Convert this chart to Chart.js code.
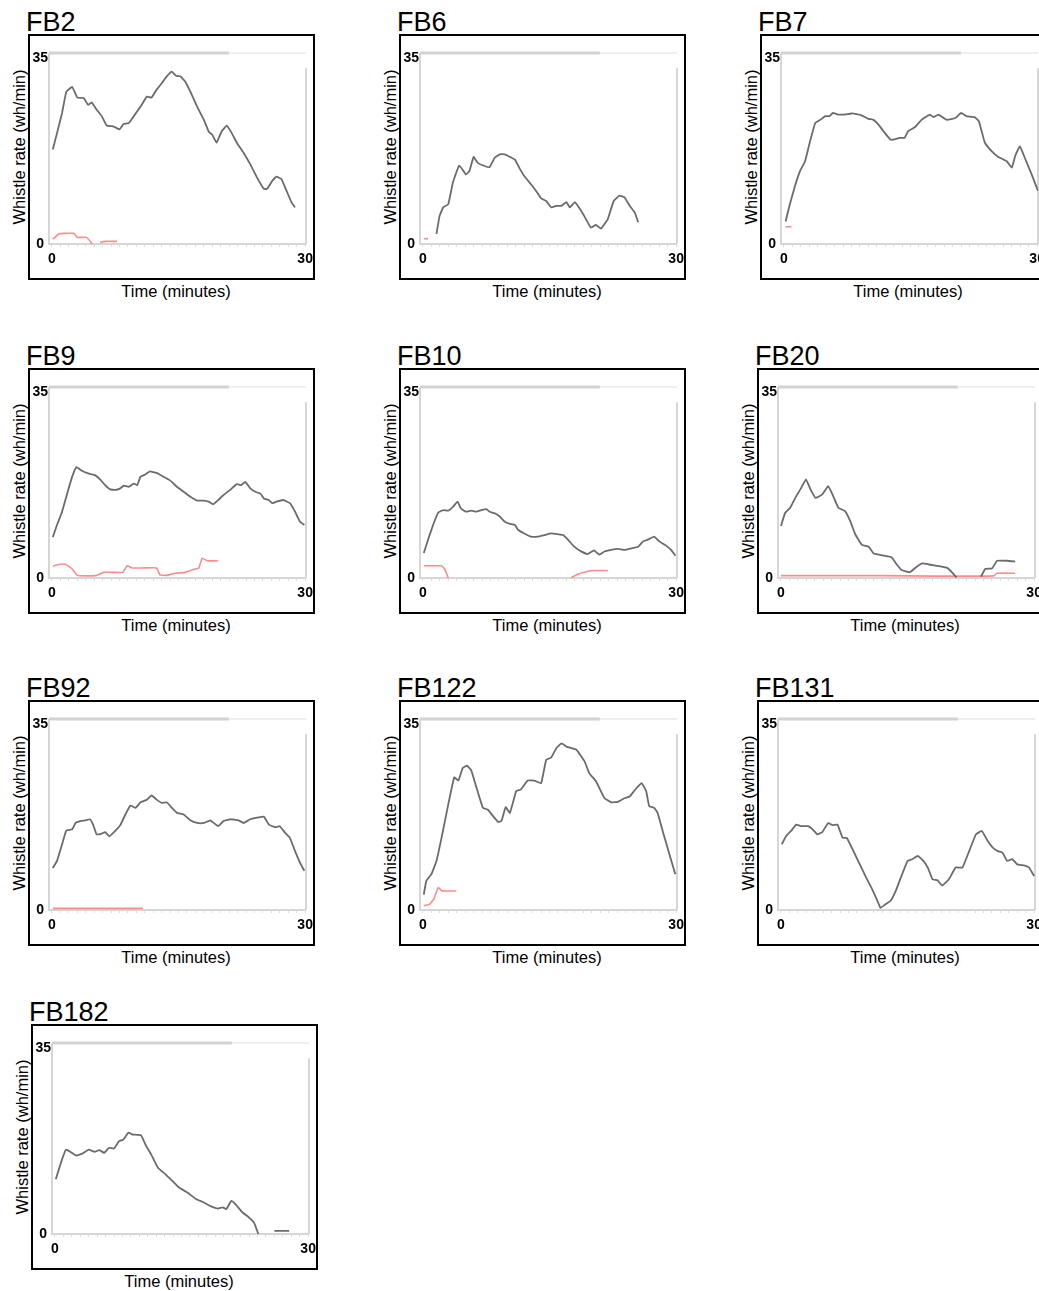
<!DOCTYPE html>
<html>
<head>
<meta charset="utf-8">
<script src="https://cdn.jsdelivr.net/npm/chart.js@4"></script>
<style>
  body { margin: 0; background: #fff; width: 1039px; height: 1291px; overflow: hidden; position: relative;
         font-family: "Liberation Sans", Arial, sans-serif; color: #000; }
  .title { position: absolute; font-size: 27px; line-height: 30px; white-space: nowrap; }
  .box { position: absolute; width: 287px; height: 246px; border: 2px solid #000; box-sizing: border-box; }
  .box canvas { position: absolute; left: 0; top: 0; }
  .ytitle { position: absolute; font-size: 16.5px; white-space: nowrap; transform: translate(-50%, -50%) rotate(-90deg); }
  .xtitle { position: absolute; font-size: 16.5px; white-space: nowrap; transform: translate(-50%, -50%); }
</style>
</head>
<body>
<script>
// whistle rate (wh/min) against time (minutes), [time, rate] pairs
const fb2Grey = [[0.1,17.8],[0.6,20.9],[1.2,24.7],[1.7,28.7],[2.4,29.6],[3.0,27.6],[3.75,27.5],[4.3,26.2],[4.7,26.7],[5.3,25.3],[5.9,24.1],[6.5,22.3],[7.1,22.2],[7.5,22.0],[8.0,21.6],[8.5,22.6],[9.1,22.8],[9.7,24.1],[10.5,25.9],[11.25,27.8],[11.8,27.6],[12.4,29.1],[13.0,30.3],[13.6,31.6],[14.2,32.5],[14.7,31.7],[15.2,31.6],[15.8,30.6],[16.4,28.7],[17.2,25.9],[18.0,23.4],[18.6,21.1],[19.0,20.6],[19.5,19.1],[20.1,21.2],[20.7,22.3],[21.3,20.9],[21.9,19.1],[22.7,17.2],[23.5,15.0],[24.3,12.5],[25.1,10.4],[25.5,10.4],[26.1,11.9],[26.6,12.7],[27.2,12.2],[27.8,10.0],[28.4,7.8],[28.8,6.9]];
const fb2Red = [[0.1,0.9],[0.8,1.9],[1.4,2.0],[2.6,2.0],[3.0,1.25],[4.1,1.25],[4.8,0],[5.2,null],[5.7,0.3],[6.3,0.5],[7.7,0.5]];

const fb6Grey = [[1.6,1.9],[1.97,5.3],[2.4,6.9],[3.0,7.5],[3.55,11.6],[4.3,14.8],[5.1,13.1],[5.5,13.75],[6.0,16.4],[6.5,15.3],[7.3,14.7],[7.9,14.5],[8.5,16.25],[9.1,16.9],[9.7,16.9],[10.1,16.6],[10.9,15.9],[11.4,14.4],[12.0,12.8],[12.8,11.25],[13.4,10.0],[14.0,8.6],[14.6,8.1],[15.2,6.9],[15.8,7.2],[16.4,7.2],[17.0,7.9],[17.4,6.9],[18.0,7.9],[18.6,6.6],[19.1,5.3],[19.9,3.1],[20.5,3.6],[21.1,2.9],[21.9,4.7],[22.6,8.1],[23.3,9.1],[23.9,8.75],[24.5,7.2],[25.1,5.9],[25.5,4.1]];
const fb6Red = [[0.1,1.0],[0.6,1.0]];

const fb7Grey = [[0.2,4.25],[0.7,7.5],[1.3,10.9],[1.9,13.75],[2.5,15.6],[3.1,19.4],[3.7,22.8],[4.3,23.4],[4.9,24.1],[5.4,24.1],[5.8,24.7],[6.4,24.4],[7.2,24.4],[8.0,24.6],[8.6,24.5],[9.2,24.25],[10.0,23.6],[10.6,23.4],[11.2,22.5],[11.8,21.25],[12.6,19.7],[13.1,19.7],[13.7,20.0],[14.3,20.0],[14.7,21.25],[15.5,22.0],[16.3,23.4],[17.3,24.4],[17.7,23.9],[18.3,24.4],[19.3,23.4],[20.3,23.75],[21.0,24.7],[21.6,24.1],[22.6,23.9],[23.1,23.1],[23.8,19.1],[24.6,17.5],[25.4,16.4],[26.4,15.6],[27.0,14.4],[27.4,16.6],[27.95,18.4],[28.7,15.6],[29.5,12.5],[30.1,10.0]];
const fb7Red = [[0.2,3.25],[0.9,3.25]];

const fb9Grey = [[0.1,7.7],[0.6,10.0],[1.2,12.5],[1.8,15.9],[2.4,19.1],[2.9,20.9],[3.55,20.2],[4.3,19.7],[5.1,19.4],[5.7,18.6],[6.3,17.5],[6.9,16.7],[7.5,16.6],[8.1,16.9],[8.5,17.4],[9.1,17.2],[9.7,17.8],[10.1,17.5],[10.5,19.1],[11.05,19.5],[11.6,20.1],[12.4,19.8],[13.2,19.1],[14.0,18.4],[14.8,17.2],[15.6,16.25],[16.4,15.3],[17.2,14.6],[18.0,14.6],[18.55,14.4],[19.1,13.9],[19.7,14.7],[20.3,15.6],[21.1,16.6],[21.9,17.7],[22.4,17.5],[22.9,18.1],[23.5,16.9],[24.1,16.25],[24.7,15.9],[25.1,15.0],[25.7,14.7],[26.1,14.1],[26.6,14.4],[27.4,14.7],[28.2,14.1],[28.8,12.5],[29.4,10.6],[29.9,10.0]];
const fb9Red = [[0.1,2.2],[0.6,2.5],[1.6,2.6],[2.4,1.7],[3.0,0.5],[4.1,0.4],[5.3,0.5],[6.1,1.06],[7.3,1.06],[8.4,1.06],[8.9,2.3],[9.5,1.9],[10.9,1.9],[12.4,1.9],[12.8,0.6],[13.6,0.5],[14.6,0.9],[15.8,1.06],[16.8,1.6],[17.4,1.9],[17.8,3.75],[18.4,3.25],[19.7,3.25]];

const fb10Grey = [[0.1,4.7],[0.6,7.2],[1.2,10.0],[1.8,12.3],[2.4,12.8],[3.0,12.7],[3.55,13.4],[4.1,14.4],[4.5,13.1],[5.1,12.5],[5.7,12.7],[6.3,12.5],[6.9,12.8],[7.5,13.0],[7.9,12.5],[8.5,12.2],[9.1,11.6],[9.7,10.6],[10.3,10.2],[10.9,10.0],[11.25,9.1],[12.0,8.4],[12.8,7.8],[13.6,7.8],[14.4,8.1],[15.2,8.4],[16.0,8.25],[16.6,8.1],[17.2,7.2],[17.8,6.1],[18.55,5.2],[19.5,4.5],[20.25,5.2],[20.9,4.4],[21.5,5.0],[22.3,5.3],[23.1,5.5],[23.9,5.3],[24.7,5.6],[25.5,5.9],[26.1,6.9],[26.6,7.2],[27.4,7.8],[28.0,6.9],[28.8,6.1],[29.4,5.3],[29.9,4.2]];
const fb10Red = [[0.1,2.3],[2.2,2.3],[2.6,1.6],[3.0,0],[10.0,null],[17.6,0.1],[18.4,0.75],[19.1,1.1],[20.1,1.4],[21.9,1.4]];

const fb20Grey = [[0,9.8],[0.5,12.3],[1.1,13.25],[1.7,15.1],[2.3,16.7],[2.96,18.6],[3.5,16.7],[4.1,15.1],[4.9,15.75],[5.6,17.3],[6.2,15.4],[6.8,13.25],[7.6,12.6],[8.2,10.75],[8.8,8.25],[9.6,6.25],[10.4,5.9],[11.0,4.6],[12.2,4.2],[13.1,3.9],[13.7,2.6],[14.3,1.5],[15.3,1.1],[15.9,1.9],[16.7,2.75],[17.7,2.5],[18.9,2.2],[19.7,1.9],[20.25,1.1],[20.8,0.1],[22.2,null],[23.7,0.25],[24.2,1.7],[25.0,1.8],[25.6,3.25],[26.8,3.25],[27.75,3.1]];
const fb20Red = [[0,0.45],[12.0,0.45],[18.0,0.35],[25.2,0.4],[25.6,0.9],[27.75,0.9]];

const fb92Grey = [[0.1,7.9],[0.6,9.25],[1.2,12.4],[1.7,15.0],[2.4,15.2],[2.8,16.4],[3.35,16.75],[3.95,16.9],[4.5,17.1],[4.9,16.0],[5.3,14.25],[5.9,14.4],[6.3,14.7],[6.8,13.9],[7.5,14.9],[8.1,16.0],[8.7,18.0],[9.3,19.7],[9.9,19.25],[10.5,20.3],[11.25,20.8],[11.8,21.6],[12.4,20.8],[13.0,20.2],[13.6,20.3],[14.2,19.25],[14.8,18.3],[15.6,18.0],[16.4,16.9],[17.2,16.4],[18.0,16.4],[18.75,16.9],[19.7,15.8],[20.3,16.75],[21.1,17.1],[22.1,16.9],[22.7,16.4],[23.5,17.1],[24.3,17.4],[25.1,17.6],[25.7,16.1],[26.45,15.6],[27.0,15.8],[27.6,14.6],[28.2,13.6],[28.8,11.1],[29.4,8.9],[29.9,7.4]];
const fb92Red = [[0.1,0.3],[10.8,0.3]];

const fb122Grey = [[0.1,2.9],[0.4,5.5],[1.0,6.75],[1.6,9.25],[2.2,13.6],[3.0,19.9],[3.7,25.0],[4.2,24.4],[4.7,26.75],[5.2,27.2],[5.7,26.4],[6.3,23.3],[7.1,19.25],[7.7,18.9],[8.3,17.7],[8.9,16.6],[9.3,16.75],[9.8,19.4],[10.3,18.3],[11.05,22.4],[11.6,22.7],[12.4,24.4],[13.2,24.4],[14.0,23.9],[14.6,28.3],[15.2,28.75],[15.8,30.5],[16.4,31.4],[17.0,30.8],[17.6,30.5],[18.2,30.2],[19.15,28.0],[19.7,25.8],[20.5,24.25],[21.5,21.1],[22.3,20.3],[23.1,20.4],[23.9,21.1],[24.5,21.4],[25.1,22.6],[25.9,23.9],[26.45,22.4],[26.8,19.6],[27.4,19.25],[27.8,18.3],[28.4,14.9],[29.2,10.5],[29.9,6.75]];
const fb122Red = [[0.1,0.8],[0.8,1.1],[1.3,2.1],[1.8,4.25],[2.25,3.6],[3.95,3.6]];

const fb131Grey = [[0.1,12.4],[0.6,13.9],[1.2,14.9],[1.8,16.1],[2.4,15.8],[3.2,15.8],[3.75,15.2],[4.3,14.25],[4.9,14.7],[5.6,16.4],[6.1,16.0],[6.7,16.1],[7.3,13.6],[7.8,13.6],[8.5,11.4],[9.3,8.75],[10.1,6.1],[10.7,4.25],[11.25,2.4],[11.8,0.4],[12.4,1.1],[13.0,1.75],[13.6,3.6],[14.2,6.1],[15.0,9.25],[15.6,9.6],[16.2,10.2],[16.8,9.4],[17.4,8.0],[17.95,5.8],[18.55,5.6],[19.1,4.6],[19.9,5.8],[20.7,8.0],[21.5,8.0],[22.3,11.1],[23.1,14.25],[23.8,14.9],[24.5,13.0],[25.1,11.75],[25.7,11.1],[26.25,10.8],[26.8,9.25],[27.4,9.6],[28.0,8.6],[28.8,8.4],[29.4,8.0],[30.0,6.4]];
const fb131Red = [];

const fb182Grey = [[0.1,10.3],[0.7,13.4],[1.3,15.9],[1.9,15.4],[2.5,14.8],[3.3,15.2],[4.0,15.9],[4.7,15.5],[5.25,15.8],[5.85,15.3],[6.4,16.25],[7.0,16.1],[7.6,17.5],[8.1,17.8],[8.7,19.1],[9.2,18.75],[10.2,18.6],[10.8,16.6],[11.4,15.0],[12.2,12.5],[13.1,11.25],[13.9,10.0],[14.7,8.75],[15.7,7.8],[16.7,6.6],[17.7,5.9],[18.5,5.2],[19.3,4.8],[19.9,5.0],[20.3,4.7],[20.9,6.25],[21.4,5.6],[22.2,4.1],[23.0,3.1],[23.6,2.1],[24.1,0],[25.0,null],[26.0,0.6],[27.75,0.6]];
const fb182Red = [];

const panelNames = ['FB2', 'FB6', 'FB7', 'FB9', 'FB10', 'FB20', 'FB92', 'FB122', 'FB131', 'FB182'];
const greySeries = [fb2Grey, fb6Grey, fb7Grey, fb9Grey, fb10Grey, fb20Grey, fb92Grey, fb122Grey, fb131Grey, fb182Grey];
const redSeries = [fb2Red, fb6Red, fb7Red, fb9Red, fb10Red, fb20Red, fb92Red, fb122Red, fb131Red, fb182Red];
const yTickValues = [0, 35];
const xTickLabels = [0, 30];

// box top-left corner of each panel on the page
const panelBoxes = [[28,34],[399,34],[760,34],[28,368],[399,368],[757,368],[28,700],[399,700],[757,700],[31,1024]];

// light grey plot frame, darker on the left of the top edge like the scan
const plotFrame = {
  id: 'plotFrame',
  beforeDatasetsDraw(chart) {
    const { ctx, chartArea: a } = chart;
    const w = a.right - a.left, h = a.bottom - a.top;
    ctx.save();
    ctx.lineWidth = 2;
    ctx.strokeStyle = '#d6d6d6';
    ctx.beginPath();
    ctx.moveTo(a.left, a.top); ctx.lineTo(a.left, a.bottom); ctx.lineTo(a.right, a.bottom);
    ctx.moveTo(a.right, a.top + 0.08 * h); ctx.lineTo(a.right, a.bottom);
    ctx.stroke();
    ctx.lineWidth = 3;
    ctx.strokeStyle = '#d2d2d2';
    ctx.beginPath(); ctx.moveTo(a.left, a.top); ctx.lineTo(a.left + 0.7 * w, a.top); ctx.stroke();
    ctx.lineWidth = 2;
    ctx.strokeStyle = '#eeeeee';
    ctx.beginPath(); ctx.moveTo(a.left + 0.7 * w, a.top); ctx.lineTo(a.right, a.top); ctx.stroke();
    ctx.restore();
  }
};

const toPoints = arr => arr.map(p => ({ x: p[0], y: p[1] }));
const tickFont = { family: '"Liberation Sans", Arial, sans-serif', size: 14, weight: 'bold' };

panelNames.forEach((name, i) => {
  const [bx, by] = panelBoxes[i];

  const title = document.createElement('div');
  title.className = 'title';
  title.textContent = name;
  title.style.left = (bx - 2) + 'px';
  title.style.top = (by - 27) + 'px';
  document.body.appendChild(title);

  const box = document.createElement('div');
  box.className = 'box';
  box.style.left = bx + 'px';
  box.style.top = by + 'px';
  const canvas = document.createElement('canvas');
  canvas.width = 283;
  canvas.height = 242;
  box.appendChild(canvas);
  document.body.appendChild(box);

  const yt = document.createElement('div');
  yt.className = 'ytitle';
  yt.textContent = 'Whistle rate (wh/min)';
  yt.style.left = (bx - 9) + 'px';
  yt.style.top = (by + 113) + 'px';
  document.body.appendChild(yt);

  const xt = document.createElement('div');
  xt.className = 'xtitle';
  xt.textContent = 'Time (minutes)';
  xt.style.left = (bx + 148) + 'px';
  xt.style.top = (by + 257) + 'px';
  document.body.appendChild(xt);

  new Chart(canvas.getContext('2d'), {
    type: 'line',
    data: {
      datasets: [
        { data: toPoints(greySeries[i]), borderColor: '#6b6b6b', borderWidth: 1.8 },
        { data: toPoints(redSeries[i]), borderColor: '#ff8c8c', borderWidth: 1.6 }
      ]
    },
    options: {
      responsive: false,
      animation: false,
      devicePixelRatio: 1,
      events: [],
      spanGaps: false,
      elements: { point: { radius: 0 }, line: { tension: 0.1 } },
      layout: { padding: { top: 17, right: 7, left: 0, bottom: 0 } },
      plugins: { legend: { display: false }, tooltip: { enabled: false } },
      scales: {
        x: {
          type: 'linear', min: -0.35, max: 30.1,
          afterBuildTicks: s => { s.ticks = Array.from({ length: 31 }, (_, k) => ({ value: k })); },
          afterFit: s => { s.height = 34; s.paddingLeft = 0; s.paddingRight = 0; },
          ticks: {
            autoSkip: false, maxRotation: 0, padding: 4, color: '#000', font: tickFont,
            callback: v => xTickLabels.includes(v) ? String(v) : ''
          },
          grid: { drawOnChartArea: false, drawTicks: true, tickLength: 3, color: '#dddddd' },
          border: { display: false }
        },
        y: {
          min: 0, max: 36,
          afterBuildTicks: s => { s.ticks = yTickValues.map(v => ({ value: v })); },
          afterFit: s => { s.width = 19; s.paddingTop = 0; s.paddingBottom = 0; },
          ticks: { padding: 1, crossAlign: 'center', color: '#000', font: tickFont },
          grid: { display: false, drawTicks: false },
          border: { display: false }
        }
      }
    },
    plugins: [plotFrame]
  });
});
</script>
</body>
</html>
